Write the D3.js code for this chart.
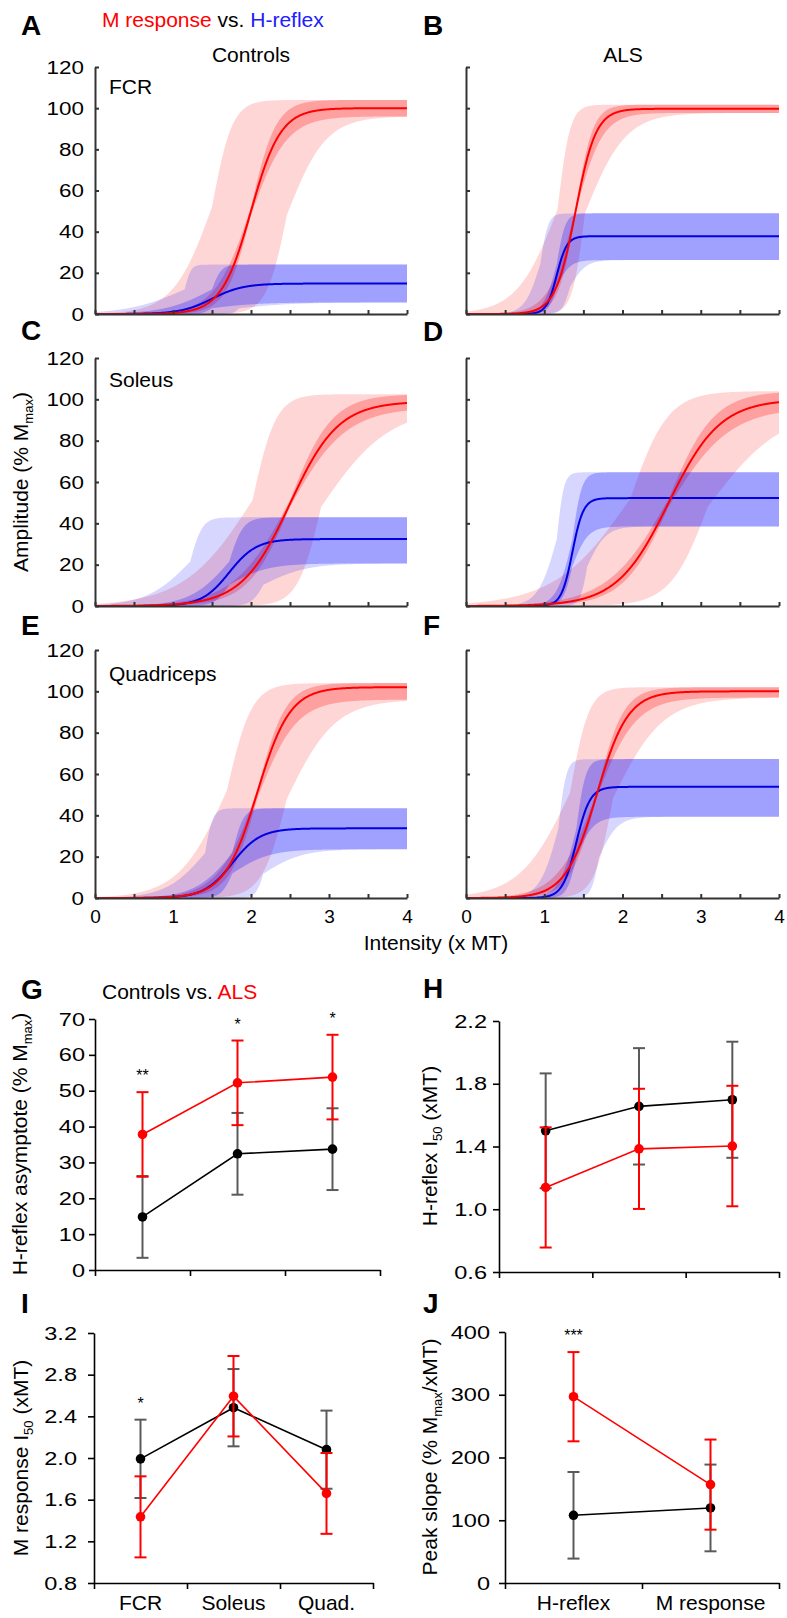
<!DOCTYPE html>
<html>
<head>
<meta charset="utf-8">
<script src="https://cdn.jsdelivr.net/npm/d3@7"></script>
<style>
  body { margin: 0; background: #fff; }
  svg { font-family: "Liberation Sans", Arial, Helvetica, sans-serif; display: block; }
</style>
</head>
<body>
<svg id="fig" width="787" height="1618"></svg>
<script>
// ---------------- Data ----------------
// Recruitment-curve fits (Boltzmann), one row per muscle (FCR, Soleus, Quadriceps):
// [asymptote, asym lo, asym hi, I50, I50 lo, I50 hi, slope k, k lo, k hi, inner-band k lo, inner-band k hi]
const muscles = ["FCR", "Soleus", "Quadriceps"];
const ctrlMFit = [
  [100.0, 96.0, 104.0, 2.00, 1.50, 2.46, 0.19, 0.13, 0.25, 0.16, 0.23],
  [99.0, 96.0, 102.5, 2.50, 2.02, 2.90, 0.31, 0.15, 0.44, 0.27, 0.36],
  [102.0, 96.0, 104.0, 2.08, 1.69, 2.46, 0.21, 0.16, 0.31, 0.18, 0.25]
];
const ctrlHFit = [
  [14.8, 5.6, 24.0, 1.50, 1.15, 1.85, 0.20, 0.04, 0.36, 0.06, 0.30],
  [32.4, 20.6, 42.9, 1.72, 1.22, 2.16, 0.175, 0.078, 0.28, 0.09, 0.25],
  [33.7, 23.6, 43.4, 1.76, 1.41, 2.16, 0.18, 0.05, 0.25, 0.07, 0.24]
];
const alsMFit = [
  [99.7, 97.7, 101.7, 1.40, 1.17, 1.52, 0.13, 0.08, 0.26, 0.11, 0.17],
  [100.0, 96.0, 104.0, 2.59, 2.10, 3.09, 0.33, 0.24, 0.48, 0.29, 0.39],
  [100.0, 97.0, 102.0, 1.67, 1.33, 1.88, 0.20, 0.12, 0.32, 0.17, 0.25]
];
const alsHFit = [
  [37.8, 26.2, 48.9, 1.16, 0.95, 1.33, 0.065, 0.05, 0.10, 0.055, 0.085],
  [52.2, 38.5, 64.7, 1.36, 1.16, 1.55, 0.07, 0.045, 0.12, 0.06, 0.10],
  [53.8, 39.3, 67.2, 1.41, 1.18, 1.70, 0.088, 0.05, 0.12, 0.06, 0.11]
];
const intensityTicks = [0, 0.5, 1, 1.5, 2, 2.5, 3, 3.5, 4];
const amplitudeTicks = [0, 20, 40, 60, 80, 100, 120];

// Summary statistics (mean and SD), Controls vs. ALS
const muscleCats = ["FCR", "Soleus", "Quad."];
const asymCtrl = [14.8, 32.4, 33.7];
const asymCtrlSd = [11.4, 11.4, 11.4];
const asymAls = [37.8, 52.2, 53.8];
const asymAlsSd = [11.8, 11.8, 11.8];
const asymTicks = [0, 10, 20, 30, 40, 50, 60, 70];
const asymStars = ["**", "*", "*"];

const hI50Ctrl = [1.50, 1.656, 1.698];
const hI50CtrlSd = [0.366, 0.371, 0.370];
const hI50Als = [1.139, 1.385, 1.403];
const hI50AlsSd = [0.383, 0.383, 0.384];
const hI50Ticks = [0.6, 1.0, 1.4, 1.8, 2.2];

const mI50Ctrl = [1.992, 2.483, 2.080];
const mI50CtrlSd = [0.376, 0.371, 0.375];
const mI50Als = [1.435, 2.593, 1.660];
const mI50AlsSd = [0.389, 0.386, 0.388];
const mI50Ticks = [0.8, 1.2, 1.6, 2.0, 2.4, 2.8, 3.2];
const mI50Stars = ["*", "", ""];

const slopeCats = ["H-reflex", "M response"];
const slopeCtrl = [107.9, 119.6];
const slopeCtrlSd = [69.0, 69.1];
const slopeAls = [296.9, 156.8];
const slopeAlsSd = [71.1, 71.8];
const slopeTicks = [0, 100, 200, 300, 400];
const slopeStars = ["***", ""];

// ---------------- Layout ----------------
const RED = "#ff0000", BLUE = "#0000e0";
const svg = d3.select("#fig");
const colX = [[95, 407], [466, 779]];
const rowY = [[67, 314], [358, 606], [650, 898]];
const FONT = 21, TICK_FONT = 19;

const sig = (A, I, k, v) => A / (1 + Math.exp((I - v) / k));
const samples = d3.range(0, 4.0001, 0.005);

// Outer band: asymptote, I50 and slope all varied; inner band: asymptote and slope at the mean I50.
function envelope(fit, outer) {
  const [A, Alo, Ahi, I, Ilo, Ihi, k, klo, khi, kdlo, kdhi] = fit;
  const Is = outer ? [Ilo, Ihi] : [I];
  const Ks = outer ? [klo, khi] : [kdlo, kdhi];
  return samples.map(v => {
    let lo = Infinity, hi = -Infinity;
    for (const a of [Alo, Ahi]) for (const i of Is) for (const kk of Ks) {
      const s = sig(a, i, kk, v);
      if (s < lo) lo = s;
      if (s > hi) hi = s;
    }
    return { v, lo, hi };
  });
}

function styleAxis(sel, color, width, size) {
  sel.attr("font-family", null).attr("font-size", null);
  sel.select(".domain").attr("stroke", color).attr("stroke-width", width);
  sel.selectAll(".tick line").attr("stroke", color).attr("stroke-width", width);
  sel.selectAll(".tick text").attr("fill", "#000").attr("font-size", size);
}

// Wide-set vertical-axis numerals, anchored at their right edge
function widenLabels(sel, factor) {
  sel.selectAll(".tick text").each(function () {
    const t = d3.select(this);
    const x = +t.attr("x");
    t.attr("x", 0).attr("transform", `translate(${x},0) scale(${factor},1)`);
  });
}

function curvePanel(col, row, mFit, hFit, showY, showX) {
  const x = d3.scaleLinear().domain([0, 4]).range(colX[col]);
  const y = d3.scaleLinear().domain([0, 120]).range([rowY[row][1], rowY[row][0]]);
  const g = svg.append("g");
  const area = d3.area().x(d => x(d.v)).y0(d => y(d.lo)).y1(d => y(d.hi));
  const line = d3.line().x(v => x(v));

  g.append("path").attr("d", area(envelope(mFit, true))).attr("fill", RED).attr("fill-opacity", 0.16);
  g.append("path").attr("d", area(envelope(mFit, false))).attr("fill", RED).attr("fill-opacity", 0.25);
  g.append("path").attr("d", area(envelope(hFit, true))).attr("fill", "#0000ff").attr("fill-opacity", 0.16);
  g.append("path").attr("d", area(envelope(hFit, false))).attr("fill", "#0000ff").attr("fill-opacity", 0.25);

  g.append("path").attr("d", line.y(v => y(sig(hFit[0], hFit[3], hFit[6], v)))(samples))
    .attr("fill", "none").attr("stroke", BLUE).attr("stroke-width", 2);
  g.append("path").attr("d", line.y(v => y(sig(mFit[0], mFit[3], mFit[6], v)))(samples))
    .attr("fill", "none").attr("stroke", RED).attr("stroke-width", 2);

  const yAxis = d3.axisLeft(y).tickValues(amplitudeTicks).tickSizeInner(-4).tickSizeOuter(0).tickPadding(11);
  if (!showY) yAxis.tickFormat("");
  const ya = g.append("g").attr("transform", `translate(${colX[col][0]},0)`).call(yAxis);
  styleAxis(ya, "#333", 2, TICK_FONT);
  widenLabels(ya, 1.18);

  const xAxis = d3.axisBottom(x).tickValues(intensityTicks).tickSizeInner(-4).tickSizeOuter(0).tickPadding(12)
    .tickFormat(d => (showX && Number.isInteger(d)) ? d : "");
  const xa = g.append("g").attr("transform", `translate(0,${rowY[row][1]})`).call(xAxis);
  styleAxis(xa, "#333", 2, TICK_FONT);
}

for (let r = 0; r < 3; r++) {
  curvePanel(0, r, ctrlMFit[r], ctrlHFit[r], true, r === 2);
  curvePanel(1, r, alsMFit[r], alsHFit[r], false, r === 2);
}

function dotPanel(p) {
  const y = d3.scaleLinear().domain(p.domain).range([p.yBot, p.yTop]);
  const xb = d3.scaleBand().domain(p.cats).range([p.x0, p.x1]).padding(0);
  const xEdge = d3.scaleLinear().domain([0, p.cats.length]).range([p.x0, p.x1]);
  const g = svg.append("g");

  const ya = g.append("g").attr("transform", `translate(${p.x0},0)`)
    .call(d3.axisLeft(y).tickValues(p.ticks).tickFormat(p.fmt).tickSizeInner(6).tickSizeOuter(0).tickPadding(p.pad));
  styleAxis(ya, "#000", 1.6, TICK_FONT);
  widenLabels(ya, 1.24);
  const xa = g.append("g").attr("transform", `translate(0,${p.yBot})`)
    .call(d3.axisBottom(xEdge).tickValues(d3.range(p.cats.length + 1)).tickFormat("").tickSizeInner(6).tickSizeOuter(0));
  styleAxis(xa, "#000", 1.6, TICK_FONT);
  if (p.showCats) {
    const ca = g.append("g").attr("transform", `translate(0,${p.yBot})`)
      .call(d3.axisBottom(xb).tickSize(0).tickPadding(12));
    ca.select(".domain").remove();
    styleAxis(ca, "#000", 0, FONT);
  }

  const cx = c => xb(c) + xb.bandwidth() / 2;
  function series(vals, sds, color, barColor) {
    const pts = p.cats.map((c, i) => ({ c, v: vals[i], s: sds[i] }));
    const eb = g.append("g").attr("stroke", barColor).attr("stroke-width", 2);
    pts.forEach(d => {
      eb.append("line").attr("x1", cx(d.c)).attr("x2", cx(d.c)).attr("y1", y(d.v - d.s)).attr("y2", y(d.v + d.s));
      [d.v - d.s, d.v + d.s].forEach(e =>
        eb.append("line").attr("x1", cx(d.c) - 6).attr("x2", cx(d.c) + 6).attr("y1", y(e)).attr("y2", y(e)));
    });
    g.append("path").datum(pts).attr("d", d3.line().x(d => cx(d.c)).y(d => y(d.v)))
      .attr("fill", "none").attr("stroke", color).attr("stroke-width", 1.6);
    g.append("g").selectAll("circle").data(pts).join("circle")
      .attr("cx", d => cx(d.c)).attr("cy", d => y(d.v)).attr("r", 4.8).attr("fill", color);
  }
  series(p.ctrl, p.ctrlSd, "#000", "#5a5a5a");
  series(p.als, p.alsSd, RED, RED);

  if (p.stars) {
    g.append("g").selectAll("text").data(p.cats).join("text")
      .attr("x", c => cx(c))
      .attr("y", (c, i) => y(Math.max(p.ctrl[i] + p.ctrlSd[i], p.als[i] + p.alsSd[i])) - 11)
      .attr("text-anchor", "middle").attr("font-size", 16)
      .text((c, i) => p.stars[i]);
  }
}

dotPanel({ x0: 95, x1: 380, yTop: 1019, yBot: 1270, domain: [0, 70], ticks: asymTicks, fmt: d3.format("d"),
  cats: muscleCats, ctrl: asymCtrl, ctrlSd: asymCtrlSd, als: asymAls, alsSd: asymAlsSd, stars: asymStars,
  showCats: false, pad: 4 });
dotPanel({ x0: 499, x1: 779, yTop: 1021, yBot: 1272, domain: [0.6, 2.2], ticks: hI50Ticks, fmt: d3.format(".1f"),
  cats: muscleCats, ctrl: hI50Ctrl, ctrlSd: hI50CtrlSd, als: hI50Als, alsSd: hI50AlsSd, stars: null,
  showCats: false, pad: 6 });
dotPanel({ x0: 94, x1: 373, yTop: 1333, yBot: 1583, domain: [0.8, 3.2], ticks: mI50Ticks, fmt: d3.format(".1f"),
  cats: muscleCats, ctrl: mI50Ctrl, ctrlSd: mI50CtrlSd, als: mI50Als, alsSd: mI50AlsSd, stars: mI50Stars,
  showCats: true, pad: 11 });
dotPanel({ x0: 505, x1: 779, yTop: 1332, yBot: 1583, domain: [0, 400], ticks: slopeTicks, fmt: d3.format("d"),
  cats: slopeCats, ctrl: slopeCtrl, ctrlSd: slopeCtrlSd, als: slopeAls, alsSd: slopeAlsSd, stars: slopeStars,
  showCats: true, pad: 9 });

// ---------------- Text ----------------
const letters = [["A", 21, 35], ["B", 423, 35], ["C", 21, 340], ["D", 423, 341], ["E", 21, 635], ["F", 423, 635],
  ["G", 21, 999], ["H", 423, 998], ["I", 21, 1313], ["J", 423, 1313]];
svg.append("g").selectAll("text").data(letters).join("text")
  .attr("x", d => d[1]).attr("y", d => d[2]).attr("font-size", 28).attr("font-weight", "bold").text(d => d[0]);

const title = svg.append("text").attr("x", 102).attr("y", 27).attr("font-size", FONT);
title.append("tspan").attr("fill", RED).text("M response");
title.append("tspan").attr("fill", "#000").text(" vs. ");
title.append("tspan").attr("fill", "#2020ff").text("H-reflex");

svg.append("text").attr("x", 251).attr("y", 62).attr("text-anchor", "middle").attr("font-size", FONT).text("Controls");
svg.append("text").attr("x", 623).attr("y", 62).attr("text-anchor", "middle").attr("font-size", FONT).text("ALS");
const muscleY = [94, 387, 681];
muscles.forEach((m, i) => svg.append("text").attr("x", 109).attr("y", muscleY[i]).attr("font-size", FONT).text(m));

svg.append("text").attr("x", 436).attr("y", 950).attr("text-anchor", "middle").attr("font-size", FONT).text("Intensity (x MT)");

const sub = svg.append("text").attr("x", 102).attr("y", 999).attr("font-size", FONT);
sub.append("tspan").text("Controls vs. ");
sub.append("tspan").attr("fill", RED).text("ALS");

// Rotated axis titles; parts flagged true are set as subscripts
function yTitle(x, y, parts) {
  const t = svg.append("text").attr("transform", `translate(${x},${y}) rotate(-90)`)
    .attr("text-anchor", "middle").attr("font-size", FONT);
  let prevSub = false;
  parts.forEach(([s, isSub]) => {
    const ts = t.append("tspan").text(s);
    if (isSub) ts.attr("font-size", 13).attr("dy", 5);
    else if (prevSub) ts.attr("dy", -5);
    prevSub = isSub;
  });
}
yTitle(28, 482, [["Amplitude (% M", false], ["max", true], [")", false]]);
yTitle(27, 1144, [["H-reflex asymptote (% M", false], ["max", true], [")", false]]);
yTitle(437, 1146, [["H-reflex I", false], ["50", true], [" (xMT)", false]]);
yTitle(28, 1458, [["M response I", false], ["50", true], [" (xMT)", false]]);
yTitle(437, 1457, [["Peak slope (% M", false], ["max", true], ["/xMT)", false]]);
</script>
</body>
</html>
